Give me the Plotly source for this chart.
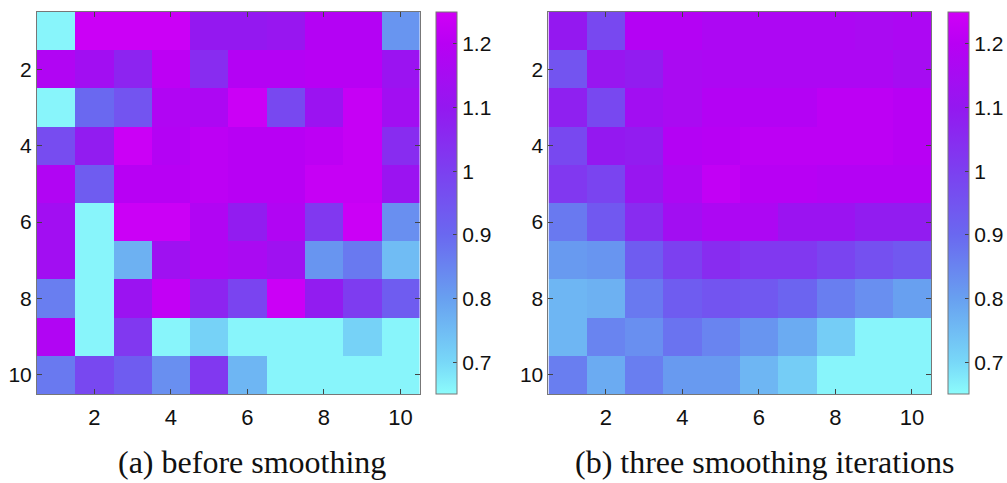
import plotly.graph_objects as go

# grid indices
rows = list(range(1, 11))
cols = list(range(1, 11))
tick_vals = [2, 4, 6, 8, 10]
cbar_ticks = [0.7, 0.8, 0.9, 1.0, 1.1, 1.2]
cbar_labels = ["0.7", "0.8", "0.9", "1", "1.1", "1.2"]
z_min, z_max = 0.65, 1.25

# field values before smoothing (row 1 at top)
before = [
    [0.66, 1.24, 1.24, 1.24, 1.10, 1.10, 1.11, 1.19, 1.19, 0.82],
    [1.18, 1.14, 1.07, 1.21, 1.05, 1.19, 1.19, 1.20, 1.20, 1.12],
    [0.66, 0.90, 0.95, 1.18, 1.17, 1.24, 0.98, 1.12, 1.23, 1.14],
    [0.97, 1.09, 1.24, 1.19, 1.21, 1.20, 1.20, 1.21, 1.23, 1.05],
    [1.18, 0.93, 1.20, 1.20, 1.21, 1.20, 1.20, 1.23, 1.23, 1.12],
    [1.14, 0.66, 1.24, 1.24, 1.18, 1.09, 1.18, 1.02, 1.24, 0.83],
    [1.14, 0.66, 0.77, 1.13, 1.18, 1.16, 1.13, 0.82, 0.87, 0.75],
    [0.86, 0.66, 1.12, 1.22, 1.07, 0.99, 1.24, 1.09, 1.01, 0.93],
    [1.18, 0.66, 1.02, 0.66, 0.71, 0.66, 0.66, 0.66, 0.71, 0.66],
    [0.87, 0.98, 0.93, 0.83, 1.02, 0.76, 0.66, 0.66, 0.66, 0.66],
]

# field values after three smoothing iterations
after = [
    [1.10, 0.98, 1.19, 1.19, 1.17, 1.17, 1.17, 1.17, 1.16, 1.17],
    [0.95, 1.11, 1.09, 1.16, 1.17, 1.17, 1.17, 1.17, 1.17, 1.15],
    [1.08, 0.98, 1.14, 1.16, 1.19, 1.19, 1.19, 1.21, 1.21, 1.20],
    [0.98, 1.10, 1.09, 1.19, 1.20, 1.21, 1.21, 1.21, 1.21, 1.20],
    [1.02, 0.99, 1.11, 1.17, 1.22, 1.20, 1.20, 1.19, 1.19, 1.19],
    [0.87, 0.94, 1.05, 1.14, 1.17, 1.17, 1.12, 1.12, 1.09, 1.09],
    [0.81, 0.82, 0.93, 1.00, 1.05, 1.02, 1.02, 0.99, 0.96, 0.94],
    [0.76, 0.77, 0.87, 0.93, 0.95, 0.94, 0.91, 0.86, 0.83, 0.80],
    [0.76, 0.85, 0.83, 0.88, 0.85, 0.82, 0.78, 0.72, 0.66, 0.66],
    [0.86, 0.78, 0.86, 0.81, 0.81, 0.76, 0.72, 0.66, 0.66, 0.66],
]

captions = ["(a) before smoothing", "(b) three smoothing iterations"]

# cyan-to-magenta colour map
cool = [
    [0.0, "#8cfcfc"],
    [0.083, "#78d8f8"],
    [0.25, "#68a0f0"],
    [0.417, "#6a68f0"],
    [0.583, "#7c40f0"],
    [0.75, "#9418f0"],
    [0.917, "#b800f4"],
    [1.0, "#d000f6"],
]

W, H = 1007, 483
# pixel boxes of the two panels
x_boxes = [(37, 420), (549, 932)]
cbar_left = [436, 948]
caption_cx = [252, 765]
y_top, y_bot = 12, 394

sans = "Liberation Sans, Arial, sans-serif"
narrow = "Liberation Sans Narrow, Liberation Sans, Arial, sans-serif"

fig = go.Figure()

for i, data in enumerate([before, after]):
    xa = "x" if i == 0 else "x2"
    ya = "y" if i == 0 else "y2"
    fig.add_trace(go.Heatmap(
        z=data, x=cols, y=rows, xaxis=xa, yaxis=ya,
        colorscale=cool, zmin=z_min, zmax=z_max,
        xgap=0, ygap=0,
        colorbar=dict(
            x=cbar_left[i] / W, xanchor="left", xpad=0,
            y=1 - (y_top + y_bot) / 2 / H, yanchor="middle", ypad=0,
            len=(y_bot - y_top) / H, lenmode="fraction",
            thickness=21, thicknessmode="pixels",
            outlinewidth=1, outlinecolor="#777",
            tickvals=cbar_ticks, ticktext=cbar_labels,
            ticks="inside", ticklen=4, tickcolor="#444",
            tickfont=dict(family=sans, size=21, color="#111"),
        ),
    ))

axis_common = dict(
    showline=True, linecolor="#777", linewidth=1, mirror="allticks",
    ticks="inside", ticklen=5, tickcolor="#444",
    tickvals=tick_vals, showgrid=False, zeroline=False,
)

layout = dict(
    width=W, height=H, margin=dict(l=0, r=0, t=0, b=0),
    paper_bgcolor="white", plot_bgcolor="white", showlegend=False,
)
for i in range(2):
    sfx = "" if i == 0 else "2"
    x0, x1 = x_boxes[i]
    layout["xaxis" + sfx] = dict(
        axis_common, domain=[x0 / W, x1 / W], range=[0.5, 10.5],
        anchor="y" + sfx, ticklabelstandoff=4,
        tickfont=dict(family=narrow, size=22, color="#111"),
    )
    layout["yaxis" + sfx] = dict(
        axis_common, domain=[1 - y_bot / H, 1 - y_top / H], range=[10.5, 0.5],
        anchor="x" + sfx,
        tickfont=dict(family=sans, size=21, color="#111"),
    )
fig.update_layout(**layout)

for i, text in enumerate(captions):
    fig.add_annotation(
        text=text, xref="paper", yref="paper",
        x=caption_cx[i] / W, y=1 - 462 / H,
        xanchor="center", yanchor="middle", showarrow=False,
        font=dict(family="Liberation Serif, Times New Roman, serif", size=32, color="#111"),
    )

fig.write_html("out.html")
